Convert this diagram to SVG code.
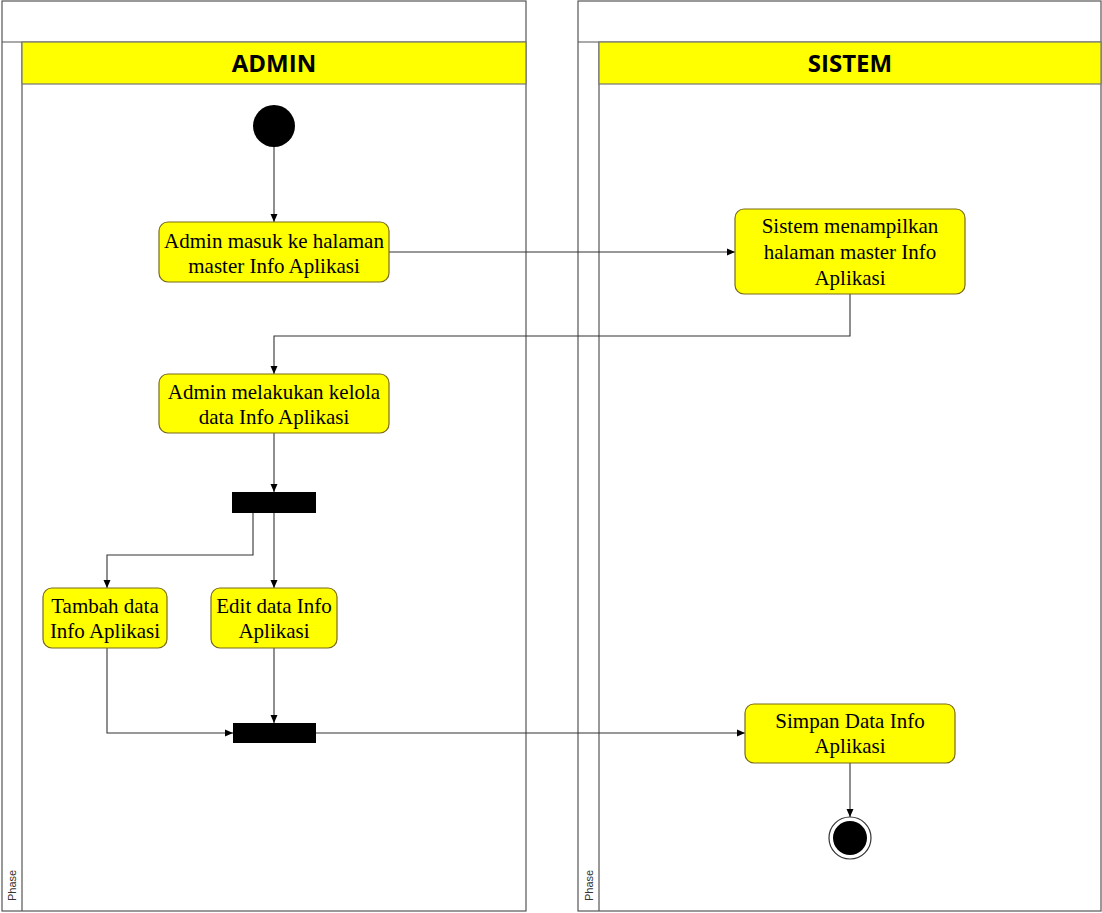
<svg xmlns="http://www.w3.org/2000/svg" width="1102" height="913" viewBox="0 0 1102 913">
<style>
.pool{fill:#fff;stroke:#555;stroke-width:1.2}
.hdr{fill:#ffff00;stroke:#777;stroke-width:1.2}
.hdrt{font-family:"Open Sans","Liberation Sans",sans-serif;font-weight:bold;font-size:24px;fill:#000;text-anchor:middle}
.act{fill:#ffff00;stroke:#7a6a1a;stroke-width:1.2}
.t{font-family:"Liberation Serif",serif;font-size:21px;fill:#000;text-anchor:middle}
.ph{font-family:"Liberation Sans",sans-serif;font-size:11px;fill:#333}
.c{fill:none;stroke:#333;stroke-width:1.1;marker-end:url(#ah)}
</style>
<defs>
<marker id="ah" markerWidth="10" markerHeight="10" refX="9" refY="5" orient="auto" markerUnits="userSpaceOnUse">
<path d="M1,1.5 L9,5 L1,8.5 Z" fill="#000"/>
</marker>
</defs>
<g id="lane-admin">
<rect class="pool" x="2" y="1" width="524" height="910"/>
<line x1="2" y1="42" x2="526" y2="42" stroke="#555" stroke-width="1.2"/>
<line x1="22" y1="42" x2="22" y2="911" stroke="#555" stroke-width="1.2"/>
<rect class="hdr" x="22" y="42" width="504" height="42"/>
<text class="hdrt" x="274" y="72">ADMIN</text>
<text class="ph" transform="translate(16,901) rotate(-90)">Phase</text>
</g>
<g id="lane-sistem">
<rect class="pool" x="578" y="1" width="523" height="910"/>
<line x1="578" y1="42" x2="1101" y2="42" stroke="#555" stroke-width="1.2"/>
<line x1="599" y1="42" x2="599" y2="911" stroke="#555" stroke-width="1.2"/>
<rect class="hdr" x="599" y="42" width="502" height="42"/>
<text class="hdrt" x="850" y="72">SISTEM</text>
<text class="ph" transform="translate(593,901) rotate(-90)">Phase</text>
</g>
<g id="connectors">
<path class="c" d="M274,147 L274,222"/>
<path class="c" d="M389,252 L735,252"/>
<path class="c" d="M850,294 L850,336 L274,336 L274,374"/>
<path class="c" d="M274,433 L274,492"/>
<path class="c" d="M253,513 L253,555 L107,555 L107,588"/>
<path class="c" d="M274,513 L274,588"/>
<path class="c" d="M107,648 L107,733 L233,733"/>
<path class="c" d="M274,648 L274,723"/>
<path class="c" d="M316,733 L745,733"/>
<path class="c" d="M850,763 L850,817"/>
</g>
<g id="start"><circle cx="274" cy="126" r="21" fill="#000"/></g>
<g id="n1">
<rect class="act" x="159" y="222" width="230" height="60" rx="9"/>
<text class="t" x="274" y="248">Admin masuk ke halaman</text>
<text class="t" x="274" y="273">master Info Aplikasi</text>
</g>
<g id="n2">
<rect class="act" x="735" y="209" width="230" height="85" rx="9"/>
<text class="t" x="850" y="233">Sistem menampilkan</text>
<text class="t" x="850" y="259">halaman master Info</text>
<text class="t" x="850" y="285">Aplikasi</text>
</g>
<g id="n3">
<rect class="act" x="159" y="374" width="230" height="59" rx="9"/>
<text class="t" x="274" y="399">Admin melakukan kelola</text>
<text class="t" x="274" y="424">data Info Aplikasi</text>
</g>
<g id="fork"><rect x="232" y="492" width="84" height="21" fill="#000"/></g>
<g id="n4">
<rect class="act" x="43" y="588" width="124" height="60" rx="9"/>
<text class="t" x="105" y="613">Tambah data</text>
<text class="t" x="105" y="638">Info Aplikasi</text>
</g>
<g id="n5">
<rect class="act" x="211" y="588" width="126" height="60" rx="9"/>
<text class="t" x="274" y="613">Edit data Info</text>
<text class="t" x="274" y="638">Aplikasi</text>
</g>
<g id="join"><rect x="233" y="723" width="83" height="20" fill="#000"/></g>
<g id="n6">
<rect class="act" x="745" y="704" width="210" height="59" rx="9"/>
<text class="t" x="850" y="728">Simpan Data Info</text>
<text class="t" x="850" y="753">Aplikasi</text>
</g>
<g id="end">
<circle cx="850" cy="838" r="21" fill="#fff" stroke="#333" stroke-width="1.2"/>
<circle cx="850" cy="838" r="17" fill="#000"/>
</g>
</svg>
